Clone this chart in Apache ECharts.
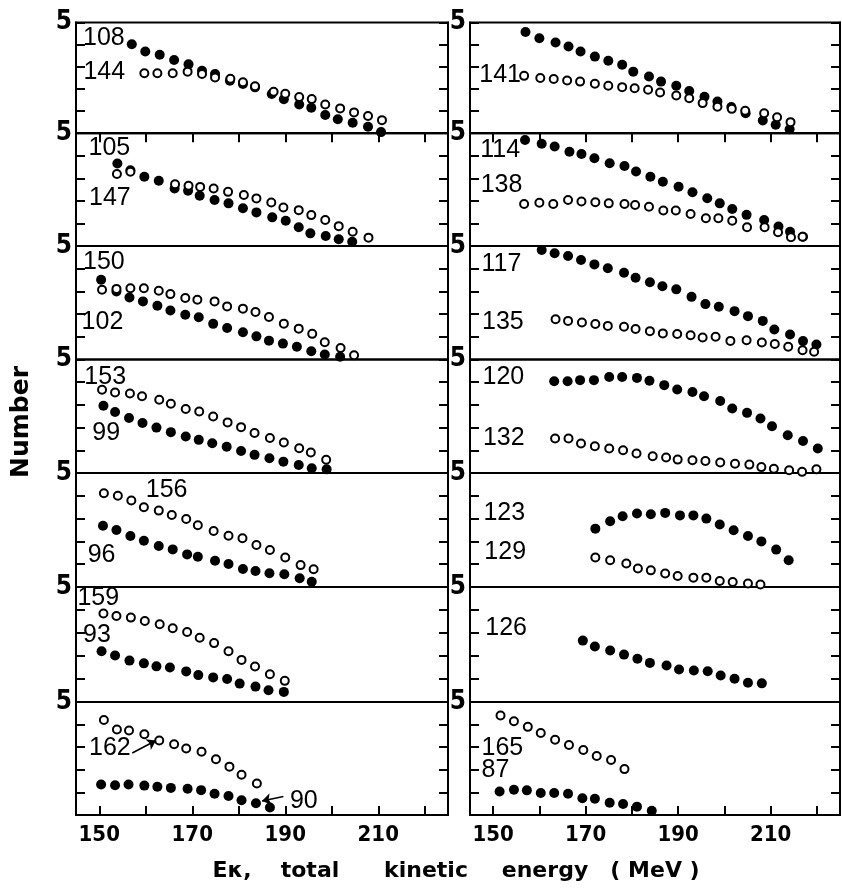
<!DOCTYPE html>
<html><head><meta charset="utf-8">
<script src="https://cdn.jsdelivr.net/npm/echarts@6/dist/echarts.min.js"></script>
<style>html,body{margin:0;padding:0;background:#fff}#c{width:842px;height:888px}</style>
</head><body><div id="c"></div>
<script>
// ---- x axis ticks / labels (MeV) ----
const xTickValues = [150,160,170,180,190,200,210,220];
const xLabelValues = [150,170,190,210];
const yTickLabel = '5';

// ---- left column data: [Ek MeV, count on panel scale 0..5] ----
const n108 = [[157.0,4.02],[159.9,3.69],[163.0,3.54],[166.1,3.31],[169.2,3.11],[172.1,2.82],[174.9,2.67],[178.1,2.37],[180.9,2.22],[183.5,2.07],[187.1,1.77],[189.7,1.53],[193.0,1.30],[195.6,1.15],[198.6,0.82],[201.3,0.63],[204.5,0.47],[207.8,0.29],[210.6,0.05]];
const n144 = [[159.7,2.71],[162.5,2.71],[165.8,2.71],[169.0,2.78],[172.1,2.67],[174.9,2.52],[178.2,2.46],[180.9,2.30],[183.5,2.12],[187.5,1.87],[190.0,1.78],[193.0,1.63],[195.7,1.54],[198.6,1.30],[201.8,1.12],[204.8,0.94],[207.8,0.78],[210.8,0.59]];
const n105 = [[153.9,3.66],[156.7,3.36],[159.7,3.07],[162.8,2.89],[166.2,2.55],[169.1,2.45],[171.6,2.23],[174.8,2.04],[177.8,1.89],[180.9,1.67],[183.8,1.49],[187.2,1.27],[190.1,1.12],[192.9,0.83],[195.4,0.56],[198.7,0.44],[201.5,0.30],[204.4,0.19]];
const n147 = [[153.8,3.19],[156.7,3.29],[166.3,2.74],[169.2,2.67],[171.7,2.62],[174.6,2.55],[177.7,2.40],[181.1,2.26],[183.8,2.11],[187.0,1.93],[189.6,1.71],[192.9,1.59],[195.6,1.37],[198.6,1.15],[201.5,0.88],[204.5,0.63],[207.9,0.37]];
const n102 = [[150.4,3.51],[153.7,3.00],[156.5,2.73],[159.4,2.56],[162.5,2.37],[165.3,2.16],[168.5,1.97],[171.4,1.86],[174.5,1.57],[177.5,1.39],[180.9,1.20],[183.8,1.02],[186.5,0.83],[189.5,0.70],[192.5,0.56],[195.6,0.36],[198.5,0.22],[201.8,0.12]];
const n150 = [[150.6,3.07],[153.7,3.11],[156.7,3.14],[159.6,3.14],[162.8,3.03],[165.3,2.88],[168.5,2.71],[171.1,2.63],[174.8,2.56],[177.5,2.34],[180.9,2.24],[183.6,2.09],[186.5,1.87],[189.7,1.58],[192.9,1.36],[195.8,1.13],[198.5,0.76],[201.9,0.51],[204.8,0.19]];
const n153 = [[150.6,3.67],[153.4,3.55],[156.6,3.50],[159.2,3.38],[162.9,3.23],[165.4,3.05],[168.6,2.82],[171.5,2.71],[174.5,2.49],[177.6,2.23],[180.5,2.02],[183.4,1.76],[186.7,1.54],[189.7,1.34],[193.0,1.09],[195.5,0.90],[198.8,0.58]];
const n99 = [[150.9,2.96],[153.4,2.69],[156.4,2.42],[159.3,2.20],[162.3,2.00],[165.4,1.80],[168.6,1.61],[171.4,1.46],[174.3,1.31],[177.4,1.16],[180.5,0.97],[183.4,0.80],[186.6,0.65],[189.6,0.50],[192.9,0.35],[195.7,0.21],[198.9,0.16]];
const n156 = [[151.0,4.11],[154.0,4.00],[156.9,3.79],[159.6,3.50],[162.8,3.35],[165.6,3.16],[168.7,2.98],[171.2,2.71],[174.6,2.46],[177.8,2.25],[180.8,2.14],[183.8,1.84],[186.7,1.62],[190.0,1.29],[193.3,0.96],[196.1,0.78]];
const n96 = [[150.8,2.69],[153.7,2.50],[156.7,2.24],[159.6,2.03],[162.8,1.80],[165.8,1.65],[168.9,1.43],[171.2,1.33],[174.9,1.15],[177.8,1.01],[180.9,0.79],[183.6,0.70],[186.6,0.60],[189.8,0.56],[193.1,0.38],[195.7,0.23]];
const n159 = [[150.9,3.85],[153.7,3.74],[156.8,3.67],[159.8,3.52],[163.0,3.38],[165.8,3.21],[168.9,3.04],[171.6,2.79],[174.7,2.56],[177.8,2.21],[180.6,1.83],[183.5,1.54],[186.7,1.21],[189.9,0.92]];
const n93 = [[150.5,2.21],[153.4,2.02],[156.5,1.80],[159.6,1.68],[162.3,1.55],[165.2,1.50],[168.7,1.33],[171.3,1.17],[174.5,1.07],[177.5,1.00],[180.2,0.80],[183.6,0.67],[186.4,0.51],[189.7,0.44]];
const n162 = [[151.0,4.20],[153.8,3.78],[156.4,3.74],[159.7,3.57],[162.9,3.30],[166.1,3.13],[168.7,2.94],[172.0,2.80],[175.1,2.47],[178.0,2.14],[180.6,1.78],[183.9,1.39]];
const n90 = [[150.4,1.35],[153.4,1.32],[156.3,1.35],[159.7,1.30],[162.5,1.25],[165.4,1.20],[169.0,1.16],[171.9,1.10],[174.8,0.94],[177.8,0.84],[180.6,0.65],[183.7,0.52],[186.7,0.33]];

// ---- right column data ----
const n111 = [[157.0,4.57],[160.0,4.29],[163.5,4.10],[166.3,3.92],[168.9,3.69],[172.0,3.46],[174.9,3.27],[177.9,3.09],[180.3,2.78],[183.7,2.56],[186.3,2.33],[189.6,2.14],[192.4,1.91],[195.7,1.65],[198.5,1.43],[201.5,1.18],[204.6,0.90],[208.3,0.57],[211.1,0.38],[214.1,0.18]];
const n141 = [[156.7,2.59],[160.2,2.49],[163.1,2.45],[166.0,2.38],[168.8,2.33],[172.0,2.23],[174.9,2.14],[177.9,2.08],[180.6,2.03],[183.5,1.96],[186.1,1.84],[189.6,1.70],[192.4,1.58],[195.3,1.36],[198.5,1.20],[201.6,1.10],[204.5,1.01],[208.6,0.90],[211.4,0.72],[214.3,0.50]];
const n114 = [[156.9,4.70],[160.5,4.53],[163.3,4.41],[166.5,4.18],[169.1,4.08],[171.9,3.89],[175.2,3.67],[178.4,3.55],[180.9,3.30],[184.0,3.07],[186.7,2.85],[190.1,2.63],[193.1,2.38],[196.3,2.12],[199.0,1.89],[201.7,1.64],[204.8,1.38],[208.6,1.15],[211.7,0.86],[214.2,0.63],[217.0,0.41]];
const n138 = [[156.7,1.86],[160.0,1.92],[163.0,1.86],[166.2,2.04],[169.1,1.97],[172.1,1.94],[175.0,1.89],[178.4,1.86],[180.7,1.82],[183.7,1.74],[186.8,1.57],[189.5,1.57],[192.7,1.42],[196.0,1.23],[198.7,1.23],[201.7,1.12],[204.9,0.83],[208.7,0.83],[211.6,0.61],[214.4,0.39],[216.9,0.41]];
const n117 = [[160.5,4.82],[163.3,4.68],[166.2,4.56],[169.0,4.38],[171.9,4.19],[174.8,4.02],[178.3,3.82],[180.8,3.60],[183.9,3.40],[186.6,3.23],[189.6,3.09],[192.9,2.76],[195.9,2.44],[198.8,2.32],[202.2,2.13],[205.1,1.91],[208.3,1.70],[210.8,1.32],[214.2,1.10],[217.0,0.81],[219.9,0.66]];
const n135 = [[163.5,1.77],[166.2,1.70],[169.2,1.63],[172.1,1.56],[174.8,1.48],[178.3,1.44],[180.8,1.34],[183.9,1.25],[186.7,1.15],[189.8,1.12],[192.7,1.07],[195.3,0.97],[198.1,1.00],[201.3,0.82],[204.8,0.85],[208.1,0.75],[210.9,0.68],[213.8,0.56],[216.9,0.41],[219.4,0.34]];
const n120 = [[163.2,4.04],[166.1,4.04],[168.8,4.09],[171.8,4.09],[175.1,4.23],[177.9,4.23],[181.1,4.19],[183.8,4.06],[187.0,3.87],[189.8,3.68],[193.1,3.57],[195.6,3.38],[199.1,3.17],[201.7,2.84],[204.9,2.65],[207.8,2.40],[210.3,2.06],[213.7,1.66],[217.0,1.41],[220.2,1.08]];
const n132 = [[163.4,1.52],[166.3,1.52],[169.0,1.30],[172.0,1.18],[175.1,1.08],[178.1,1.00],[181.0,0.86],[184.5,0.74],[187.4,0.68],[189.9,0.59],[193.1,0.56],[195.9,0.53],[199.1,0.46],[202.3,0.41],[205.4,0.37],[208.0,0.26],[210.7,0.19],[214.0,0.12],[216.8,0.05],[219.9,0.16]];
const n123 = [[172.1,2.56],[175.3,2.88],[178.0,3.10],[181.1,3.22],[184.1,3.19],[187.2,3.25],[190.4,3.14],[193.3,3.14],[196.1,3.00],[199.0,2.74],[202.0,2.49],[205.1,2.24],[208.0,2.00],[211.2,1.64],[213.9,1.17]];
const n129 = [[172.1,1.29],[175.3,1.17],[178.8,1.03],[181.3,0.81],[184.1,0.73],[187.2,0.59],[189.9,0.48],[193.3,0.41],[196.1,0.41],[199.0,0.26],[201.8,0.22],[205.1,0.15],[207.8,0.11]];
const n126 = [[169.4,2.67],[172.0,2.41],[175.3,2.24],[178.3,2.06],[181.2,1.88],[183.9,1.70],[187.5,1.59],[190.2,1.41],[193.4,1.37],[196.4,1.34],[199.2,1.15],[202.2,1.01],[205.1,0.84],[208.1,0.81]];
const n165 = [[151.6,4.40],[154.5,4.15],[157.5,3.90],[160.3,3.63],[163.4,3.33],[166.4,3.10],[169.5,2.88],[172.4,2.61],[175.5,2.43],[178.4,2.03]];
const n87 = [[151.4,1.04],[154.5,1.12],[157.3,1.09],[160.3,0.97],[163.2,0.97],[166.2,0.94],[169.3,0.74],[172.0,0.72],[175.2,0.54],[178.1,0.49],[181.1,0.37],[184.3,0.19]];

// ---- panel contents: [filled series, open series] ----
const leftFilled = [n108, n105, n102, n99, n96, n93, n90];
const leftOpen   = [n144, n147, n150, n153, n156, n159, n162];
const rightFilled = [n111, n114, n117, n120, n123, n126, n87];
const rightOpen   = [n141, n138, n135, n132, n129, null, n165];

// ---- mass-number labels: [text, Ek, level] ----
const leftLabels = [
  [['108',146.5,4.30],['144',146.6,2.76]],
  [['105',147.7,4.34],['147',147.8,2.13]],
  [['150',146.5,4.30],['102',146.2,1.65]],
  [['153',146.8,4.23],['99',148.5,1.76]],
  [['156',160.0,4.25],['96',147.5,1.40]],
  [['159',145.3,4.52],['93',146.5,2.91]],
  [['162',147.8,2.96],['90',191.0,0.62]]
];
const rightLabels = [
  [['141',147.0,2.63]],
  [['114',147.2,4.26],['138',147.3,2.70]],
  [['117',147.5,4.21],['135',147.6,1.65]],
  [['120',147.7,4.23],['132',147.8,1.54]],
  [['123',147.9,3.25],['129',148.1,1.54]],
  [['126',148.3,3.22]],
  [['165',147.5,2.96],['87',147.5,1.99]]
];
// arrows pointing from labels to series (panel 7, left column)
const arrow162 = [[157.1,2.74],[162.2,3.30]];
const arrow90 = [[189.6,0.82],[185.0,0.62]];

// axis title words and their centres (x px)
const xTitleWords = ['Eκ,', 'total', 'kinetic', 'energy', '( MeV )'];
const xTitleCenters = [232, 310, 426, 545, 655];
const yTitle = 'Number';

const NARROW = "'Liberation Sans Narrow','DejaVu Sans Condensed','Liberation Sans',sans-serif";
const tops = [22.5,133.2,246,359.5,473,587,702,815];
const cols = [{left:76,width:372},{left:470,width:370}];

const grids=[], xAxes=[], yAxes=[], series=[];
const cols_data = [
  {filled:leftFilled, open:leftOpen, labels:leftLabels},
  {filled:rightFilled, open:rightOpen, labels:rightLabels}
];
cols_data.forEach((cd, c) => {
  for (let p = 0; p < 7; p++) {
    const gi = grids.length;
    grids.push({left:cols[c].left, width:cols[c].width, top:tops[p], height:tops[p+1]-tops[p],
      show:true, borderColor:'#000', borderWidth:2, backgroundColor:'transparent', containLabel:false});
    const edge = (p===0 || p===6);
    xAxes.push({gridIndex:gi, type:'value', min:145, max:225, position: p===0?'top':'bottom', show: edge,
      axisLine:{show:true, lineStyle:{color:'#000', width:2}},
      axisTick:{show:true, inside:true, length:9, customValues:xTickValues, lineStyle:{color:'#000', width:2}},
      axisLabel:{show:p===6, customValues:xLabelValues, color:'#000', fontFamily:NARROW, fontWeight:'bold', fontSize:22, margin:9},
      splitLine:{show:false}});
    const yl = yAxes.length;
    yAxes.push({gridIndex:gi, type:'value', min:0, max:5, interval:1, position:'left',
      axisLine:{show:true, lineStyle:{color:'#000', width:2}},
      axisTick:{show:true, inside:true, length:9, lineStyle:{color:'#000', width:2}},
      axisLabel:{show:true, showMaxLabel:true, formatter:v => v===5 ? yTickLabel : '', color:'#000', fontFamily:NARROW, fontWeight:'bold', fontSize:26, margin:4},
      splitLine:{show:false}});
    yAxes.push({gridIndex:gi, type:'value', min:0, max:5, interval:1, position:'right',
      axisLine:{show:true, lineStyle:{color:'#000', width:2}},
      axisTick:{show:true, inside:true, length:9, lineStyle:{color:'#000', width:2}},
      axisLabel:{show:false}, splitLine:{show:false}});
    if (cd.filled[p]) series.push({type:'scatter', xAxisIndex:gi, yAxisIndex:yl, data:cd.filled[p],
      symbol:'circle', symbolSize:10, itemStyle:{color:'#000', opacity:1}, silent:true, z:3});
    if (cd.open[p]) series.push({type:'scatter', xAxisIndex:gi, yAxisIndex:yl, data:cd.open[p],
      symbol:'circle', symbolSize:8, itemStyle:{color:'#fff', borderColor:'#000', borderWidth:2, opacity:1}, silent:true, z:4});
    const lab = {type:'scatter', xAxisIndex:gi, yAxisIndex:yl, symbolSize:0, silent:true, z:5,
      itemStyle:{opacity:1, color:'#000'},
      data: cd.labels[p].map(l => [l[1], l[2], l[0]]),
      label:{show:true, position:'inside', align:'left', verticalAlign:'middle', formatter:pp => pp.data[2],
        color:'#000', opacity:1, textBorderWidth:0, fontFamily:"'Liberation Sans',Arial,sans-serif", fontSize:25, fontWeight:'normal'}};
    if (c===0 && p===6) {
      lab.markLine = {silent:true, symbol:['none','arrow'], symbolSize:9, animation:false,
        lineStyle:{color:'#000', width:1.6, type:'solid', opacity:1}, label:{show:false},
        data:[[{coord:arrow162[0]},{coord:arrow162[1]}],[{coord:arrow90[0]},{coord:arrow90[1]}]]};
    }
    series.push(lab);
  }
});

const graphics = xTitleWords.map((w, i) => ({type:'text', x:xTitleCenters[i], y:871,
  style:{text:w, fill:'#000', fontFamily:"'DejaVu Sans',sans-serif", fontWeight:'bold', fontSize:22, align:'center', verticalAlign:'middle'}}));
graphics.push({type:'text', x:21, y:422, rotation:Math.PI/2, style:{text:yTitle, fill:'#000',
  fontFamily:"'DejaVu Sans',sans-serif", fontWeight:'bold', fontSize:25, align:'center', verticalAlign:'middle'}});

const chart = echarts.init(document.getElementById('c'), null, {renderer:'canvas'});
chart.setOption({
  animation:false,
  backgroundColor:'#fff',
  grid:grids, xAxis:xAxes, yAxis:yAxes, series:series,
  graphic:graphics
});
</script></body></html>
